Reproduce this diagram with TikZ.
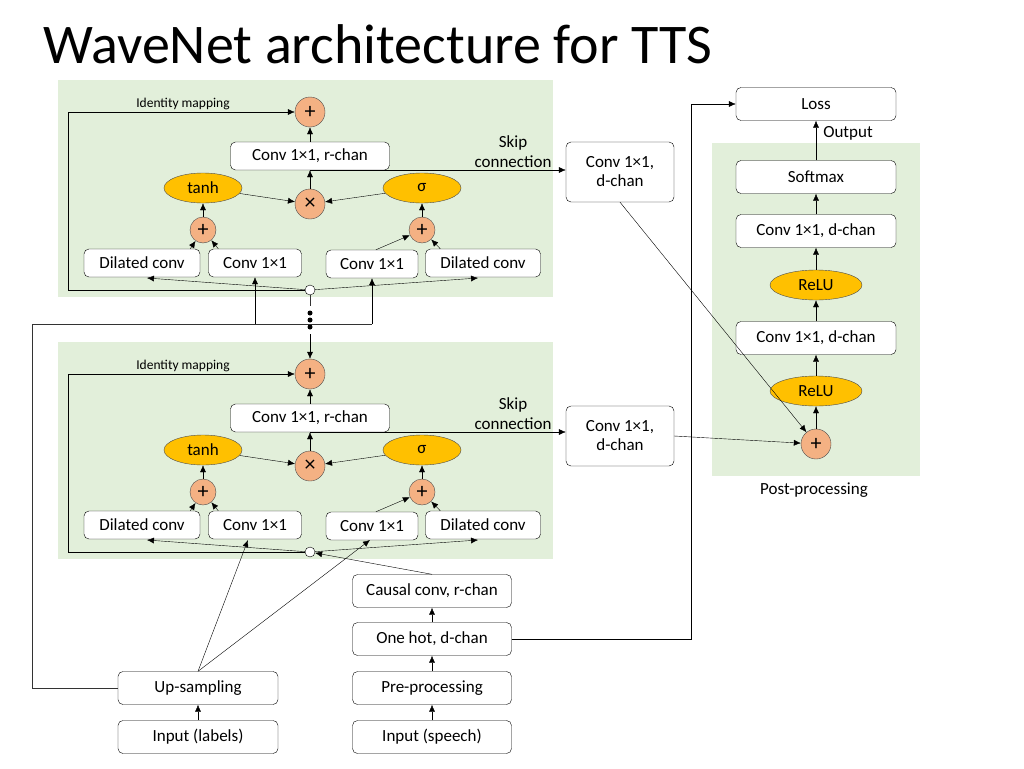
\documentclass[tikz,border=0pt]{standalone}
\usepackage{fontspec}
\setmainfont{Carlito}
\usetikzlibrary{arrows.meta,shapes.geometric,positioning}
\definecolor{panel}{HTML}{E2EFDA}
\definecolor{opfill}{HTML}{F4B183}
\definecolor{actfill}{HTML}{FFC000}
\tikzset{
    %Define standard arrow tip
    >={Latex[length=7pt,width=6pt]},
    % Define style for boxes
    blok/.style={
           rectangle,
           rounded corners=5pt,
           draw=black, fill=white,
           minimum height=28pt,
           font=\fontsize{17}{19}\selectfont},
    % operators and activations
    op/.style={circle, draw=black!70, fill=opfill, minimum size=30pt,
           inner sep=0pt, font=\fontsize{22}{22}\selectfont},
    act/.style={ellipse, draw=black!70, fill=actfill, minimum width=78pt,
           minimum height=30pt, inner sep=0pt, font=\fontsize{17}{19}\selectfont},
    tap/.style={circle, draw=black, fill=white, minimum size=10pt, inner sep=0pt},
    lbl/.style={font=\fontsize{17}{20}\selectfont, align=center},
    % Define arrow style
    pil/.style={->, thin},
    ln/.style={thin, draw=black!80}
}
\begin{document}
\begin{tikzpicture}[x=1pt,y=-1pt]
\useasboundingbox (0,0) rectangle (1024,768);
\node[anchor=west, font=\fontsize{56}{60}\selectfont] (title) at (40,44) {WaveNet architecture for TTS};

% residual blocks
\foreach \b/\oy in {a/0,b/262}{
  \fill[panel] (58,80+\oy) rectangle (553,297+\oy);
  \node[op] (plus\b) at (310,112+\oy) {+};
  \node[font=\fontsize{13.5}{15}\selectfont] (id\b) at (183,104+\oy) {Identity mapping};
  \node[blok, minimum width=159pt] (rconv\b) at (310,156+\oy) {Conv 1×1, r-chan};
  \node[act] (tanh\b) at (203,188+\oy) {tanh};
  \node[act] (sig\b) at (422,188+\oy) {σ};
  \node[op] (mul\b) at (310,204+\oy) {×};
  \node[op, minimum size=26pt] (pl\b) at (203,230+\oy) {+};
  \node[op, minimum size=26pt] (pr\b) at (422,230+\oy) {+};
  \node[blok, minimum width=116pt] (dl\b) at (142,263+\oy) {Dilated conv};
  \node[blok, minimum width=93pt] (cl\b) at (255,263+\oy) {Conv 1×1};
  \node[blok, minimum width=92pt] (cr\b) at (372,264+\oy) {Conv 1×1};
  \node[blok, minimum width=115pt] (dr\b) at (483,263+\oy) {Dilated conv};
  \node[tap] (tap\b) at (310,290+\oy) {};
  \node[blok, minimum width=108pt, minimum height=60pt, align=center] (skip\b) at (620,172+\oy+2*\oy/262) {Conv 1×1,\\d-chan};
  \node[lbl] (skl\b) at (513,152+\oy) {Skip\\connection};
  \draw[pil] (tap\b) -- (147,278+\oy);
  \draw[pil] (tap\b) -- (478,278+\oy);
  \draw[pil] (tap\b.west) -| (68,112+\oy) -- (plus\b);
  \draw[pil] (dl\b.north east) ++(-10,0) -- (pl\b);
  \draw[pil] (cl\b.north west) ++(10,0) -- (pl\b);
  \draw[pil] (cr\b.north west) ++(50,0) -- (pr\b);
  \draw[pil] (dr\b.north west) ++(15,0) -- (pr\b);
  \draw[pil] (pl\b) -- (tanh\b);
  \draw[pil] (pr\b) -- (sig\b);
  \draw[pil] (tanh\b) -- (mul\b);
  \draw[pil] (sig\b) -- (mul\b);
  \draw[pil] (mul\b) -- (rconv\b);
  \draw[pil] (rconv\b) -- (plus\b);
  \draw[pil] (310,170+\oy) -- (skip\b.west |- 0,170+\oy);
}

% stacking dots
\foreach \y in {313,320,327} \fill (310,\y) circle (2.5pt);
\draw[ln] (tapa) -- (310,306);
\draw[pil] (310,334) -- (plusb);

% inputs
\node[blok, minimum width=160pt, minimum height=33pt] (inlab) at (198,737) {Input (labels)};
\node[blok, minimum width=160pt, minimum height=33pt] (upsamp) at (198,688) {Up-sampling};
\node[blok, minimum width=159pt, minimum height=33pt] (insp) at (432,737) {Input (speech)};
\node[blok, minimum width=159pt, minimum height=33pt] (prep) at (432,688) {Pre-processing};
\node[blok, minimum width=159pt, minimum height=33pt] (onehot) at (432,639) {One hot, d-chan};
\node[blok, minimum width=159pt, minimum height=33pt] (causal) at (432,591) {Causal conv, r-chan};
\draw[pil] (inlab) -- (upsamp);
\draw[pil] (insp) -- (prep);
\draw[pil] (prep) -- (onehot);
\draw[pil] (onehot) -- (causal);
\draw[pil] (causal.north) -- (tapb);
\draw[pil] (upsamp.north) -- (248,540);
\draw[pil] (upsamp.north) -- (370,540);
\draw[ln] (upsamp.west) -| (32,324) -- (372,324);
\draw[pil] (255,324) -- (cla.south);
\draw[pil] (372,324) -- (cra.south);

% post-processing
\fill[panel] (712,143) rectangle (920,476);
\node[blok, minimum width=160pt, minimum height=33pt] (loss) at (816,104) {Loss};
\node[blok, minimum width=160pt, minimum height=33pt] (soft) at (816,177) {Softmax};
\node[blok, minimum width=160pt, minimum height=33pt] (dconvb) at (816,231) {Conv 1×1, d-chan};
\node[act, minimum width=92pt] (relub) at (816,285) {ReLU};
\node[blok, minimum width=160pt, minimum height=33pt] (dconva) at (816,338) {Conv 1×1, d-chan};
\node[act, minimum width=92pt] (relua) at (816,391) {ReLU};
\node[op] (sum) at (816,444) {+};
\node[lbl] (outl) at (848,133) {Output};
\node[lbl] (postl) at (814,490) {Post-processing};
\draw[pil] (skipa.south) -- (sum);
\draw[pil] (skipb.east) -- (sum);
\draw[pil] (sum) -- (relua);
\draw[pil] (relua) -- (dconva);
\draw[pil] (dconva) -- (relub);
\draw[pil] (relub) -- (dconvb);
\draw[pil] (dconvb) -- (soft);
\draw[pil] (soft) -- (loss);
\draw[pil] (onehot.east) -| (691,104) -- (loss.west);
\end{tikzpicture}
\end{document}
